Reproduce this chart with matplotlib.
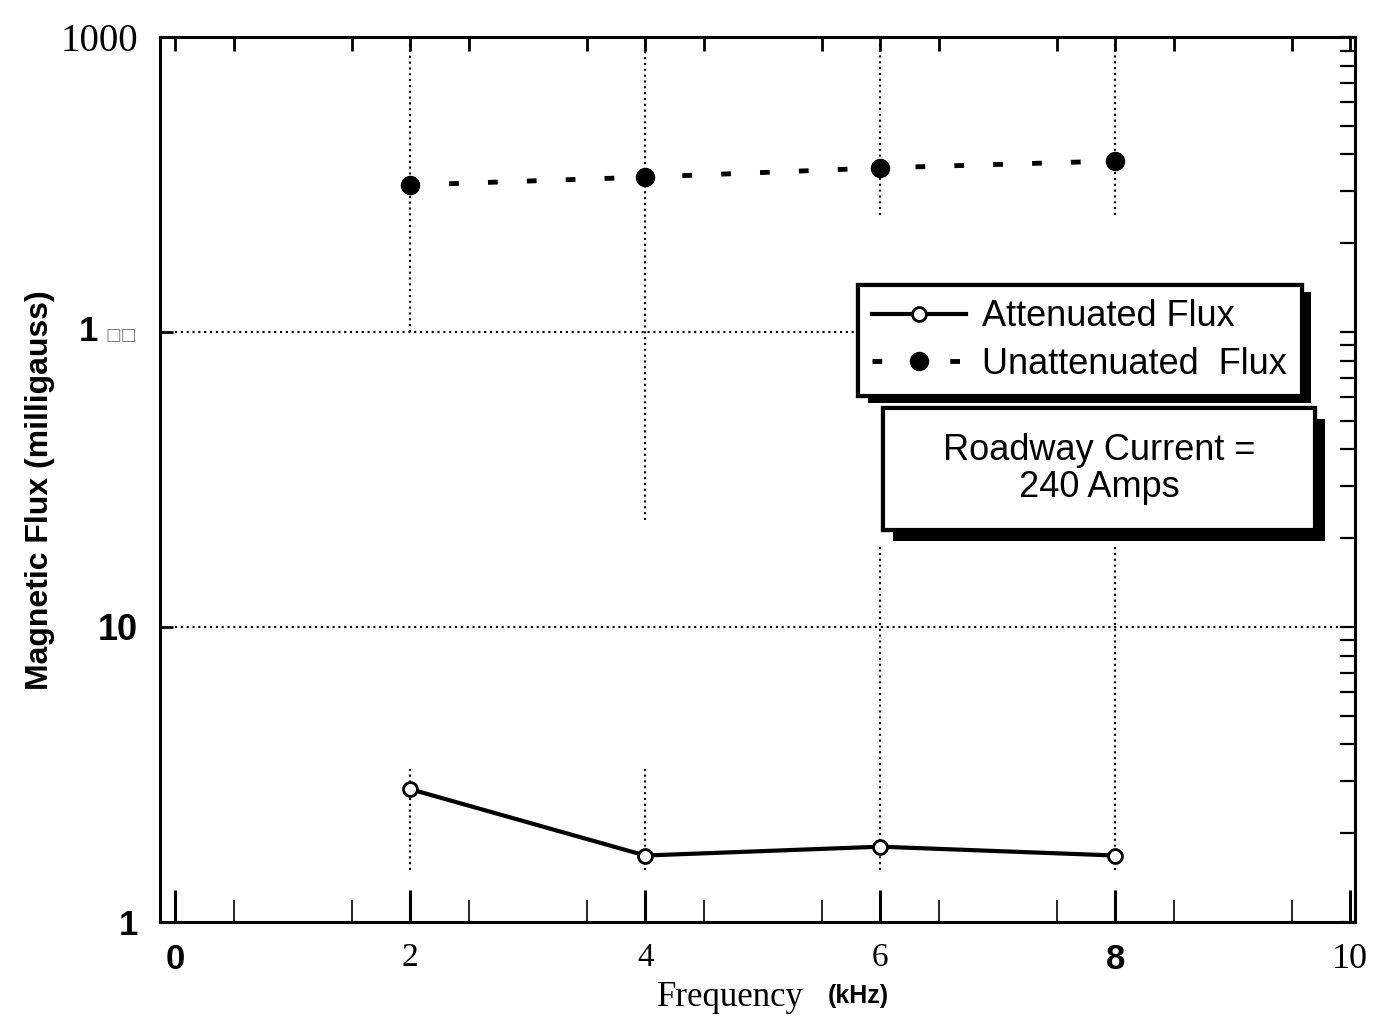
import matplotlib.pyplot as plt
import matplotlib.patheffects as pe
from matplotlib.patches import Rectangle
from matplotlib.ticker import FixedLocator, LogLocator, NullFormatter

# readings, kHz vs milligauss
freq = [2, 4, 6, 8]
attenuated = [2.82, 1.68, 1.80, 1.68]
unattenuated = [315, 335, 360, 380]

x_ticks = [0, 2, 4, 6, 8, 10]
x_labels = ['0', '2', '4', '6', '8', '10']
y_ticks = [1, 10, 100, 1000]
y_labels = ['1', '10', '', '1000']

SANS = 'Liberation Sans'
SERIF = 'Liberation Serif'

fig = plt.figure(figsize=(13.96, 10.25), dpi=100)
ax = fig.add_axes([0.1146, 0.1005, 0.856, 0.8634])
ax.set_yscale('log')
ax.set_xlim(-0.13, 10.04)
ax.set_ylim(1, 1000)

# dotted reference lines
dot = dict(colors='k', linestyles=(0, (1, 1.8)), linewidth=1.5, zorder=1)
ax.vlines(2, 100, 1000, **dot)
ax.vlines(4, 23, 1000, **dot)
ax.vlines([6, 8], 250, 1000, **dot)
ax.vlines([6, 8], 1.5, 19, **dot)
ax.vlines([2, 4], 1.5, 3.3, **dot)
ax.hlines(100, 0, 8.5, **dot)
ax.hlines(10, 0, 10, **dot)

ax.plot(freq, attenuated, color='k', lw=3, marker='o', ms=10,
        mfc='white', mec='k', mew=2, label='Attenuated Flux', zorder=3)
ax.plot(freq, unattenuated, color='k', lw=3.5, ls=(0, (2, 6)),
        marker='o', ms=13, mfc='k', mec='k', label='Unattenuated  Flux',
        zorder=3)

for s in ax.spines.values():
    s.set_linewidth(2.2)
ax.spines['right'].set_visible(False)
ax.spines['top'].set_visible(False)

# bottom axis: long inward ticks every 0.5 kHz
ax.set_xticks(x_ticks, x_labels)
ax.xaxis.set_minor_locator(FixedLocator([i * 0.5 for i in range(1, 20, 2)]))
ax.tick_params(axis='x', which='major', direction='in', length=23, width=2.2,
               pad=15, top=False)
ax.tick_params(axis='x', which='minor', direction='in', length=16, width=1.2,
               top=False)
x_fonts = [(SANS, 'bold', 25), (SERIF, 'normal', 24), (SERIF, 'normal', 24),
           (SERIF, 'normal', 24), (SANS, 'bold', 25), (SERIF, 'normal', 26)]
for lbl, (fam, wt, sz) in zip(ax.get_xticklabels(), x_fonts):
    lbl.set_family(fam)
    lbl.set_fontweight(wt)
    lbl.set_fontsize(sz)

# left axis
ax.set_yticks(y_ticks, y_labels)
ax.yaxis.set_minor_locator(FixedLocator([]))
ax.tick_params(axis='y', which='major', direction='in', length=9, width=2,
               pad=16)
y_fonts = [(SANS, 'bold', 25), (SANS, 'bold', 26), (SANS, 'bold', 25),
           (SERIF, 'normal', 28)]
for lbl, (fam, wt, sz) in zip(ax.get_yticklabels(), y_fonts):
    lbl.set_family(fam)
    lbl.set_fontweight(wt)
    lbl.set_fontsize(sz)
ytr = ax.get_yaxis_transform()
ax.text(-0.052, 100, '1', transform=ytr, ha='right', va='center',
        fontsize=25, fontweight='bold', family=SANS)
ax.text(-0.019, 98, '\u25a1\u25a1', transform=ytr, ha='right',
        va='center', fontsize=12, color='#777777', family='DejaVu Sans')

# top axis with short inward ticks
top = ax.secondary_xaxis('top')
top.set_xticks(x_ticks)
top.xaxis.set_minor_locator(FixedLocator([i * 0.5 for i in range(1, 20, 2)]))
top.tick_params(which='both', direction='in', length=10, width=2,
                labeltop=False)
top.spines['top'].set_linewidth(2.2)

# right axis with log minor ticks
rax = ax.twinx()
rax.set_yscale('log')
rax.set_ylim(1, 1000)
rax.yaxis.set_minor_locator(LogLocator(base=10, subs=range(2, 10)))
rax.yaxis.set_minor_formatter(NullFormatter())
rax.tick_params(which='both', direction='in', length=11, width=1.6,
                labelright=False)
for side in ['left', 'top', 'bottom']:
    rax.spines[side].set_visible(False)
rax.spines['right'].set_linewidth(2.2)

# axis titles
fig.text(40 / 1396, 1 - 490 / 1025, 'Magnetic Flux (milligauss)',
         rotation=90, ha='center', va='center', fontsize=23,
         fontweight='bold', family=SANS)
fig.text(730 / 1396, 1 - 998 / 1025, 'Frequency', ha='center', va='center',
         fontsize=25, family=SERIF)
fig.text(858 / 1396, 1 - 996 / 1025, '(kHz)', ha='center', va='center',
         fontsize=18, fontweight='bold', family=SANS)

shadow = [pe.withSimplePatchShadow(offset=(7, -5), shadow_rgbFace='k',
                                   alpha=1), pe.Normal()]

leg = rax.legend(*ax.get_legend_handles_labels(), loc='upper left',
                 bbox_to_anchor=(0.584, 0.72), fancybox=False, framealpha=1,
                 edgecolor='k', prop={'family': SANS, 'size': 26},
                 handlelength=2.6, borderpad=0.4, labelspacing=0.35,
                 handletextpad=0.45, borderaxespad=0)
leg.get_frame().set_linewidth(3)
leg.get_frame().set_path_effects(shadow)
leg.set_zorder(10)

box = Rectangle((0.605, 0.443), 0.3615, 0.138, transform=ax.transAxes,
                facecolor='white', edgecolor='k', linewidth=3, zorder=8,
                clip_on=False)
box.set_path_effects([pe.withSimplePatchShadow(offset=(7, -8),
                                                shadow_rgbFace='k', alpha=1),
                      pe.Normal()])
ax.add_patch(box)
ax.text(0.786, 0.512, 'Roadway Current =\n240 Amps', transform=ax.transAxes,
        ha='center', va='center', fontsize=26, family=SANS,
        linespacing=1.1, zorder=9)

fig.savefig('out.png', dpi=100)
